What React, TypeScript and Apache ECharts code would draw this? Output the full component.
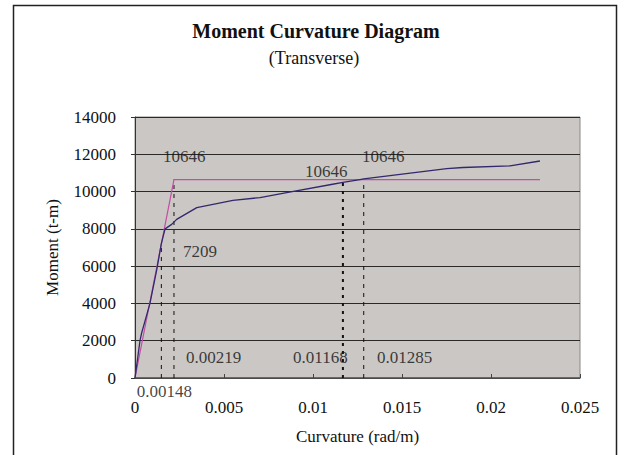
import React, { useEffect, useRef } from "react";
import * as echarts from "echarts";

const curveX = [0, 0.00028, 0.00037, 0.00084, 0.00122, 0.00148, 0.00169, 0.00206, 0.00234, 0.00347, 0.0055, 0.00702, 0.00852, 0.0111, 0.01168, 0.01264, 0.01285, 0.01751, 0.01843, 0.02107, 0.02275];
const curveY = [0, 2000, 2400, 4000, 5800, 7209, 8000, 8240, 8508, 9138, 9531, 9677, 9946, 10393, 10490, 10646, 10680, 11235, 11290, 11380, 11640];

const bilinX = [0, 0.00219, 0.02275];
const bilinY = [0, 10646, 10646];

const markerX = [0.00148, 0.00219, 0.01168, 0.01285];
const markerTop = [7209, 10646, 10490, 10646];

const annoText = ["10646", "10646", "10646", "7209", "0.00219", "0.01168", "0.01285", "0.00148"];
const annoX = [0.00157, 0.00955, 0.01275, 0.0027, 0.00287, 0.00888, 0.0136, 0.0001];
const annoY = [11900, 11093, 11900, 6785, 1077, 1077, 1077, -750];

const xTicks = [0, 0.005, 0.01, 0.015, 0.02, 0.025];
const yTicks = [0, 2000, 4000, 6000, 8000, 10000, 12000, 14000];

const FONT = "'Liberation Serif', 'DejaVu Serif', serif";

export default function App() {
  const ref = useRef<HTMLDivElement>(null);
  useEffect(() => {
    if (!ref.current) return;
    const chart = echarts.init(ref.current, undefined, { renderer: "svg" });
    const markerSeries = markerX.map((x, i) => ({
      type: "line",
      data: [
        [x, 0],
        [x, markerTop[i]],
      ],
      symbol: "none",
      silent: true,
      lineStyle: {
        color: "#111",
        width: i === 2 ? 2 : 1,
        type: i === 2 ? [3, 5] : [4, 5],
      },
      z: 3,
    }));
    chart.setOption({
      animation: false,
      backgroundColor: "#ffffff",
      textStyle: { fontFamily: FONT },
      graphic: [
        {
          type: "rect",
          shape: { x: 13.5, y: 5.5, width: 603, height: 470 },
          style: { fill: "none", stroke: "#222", lineWidth: 1.5 },
          silent: true,
          z: -1,
        },
        {
          type: "text",
          x: 316,
          y: 31,
          style: {
            text: "Moment Curvature Diagram",
            font: "bold 20px " + FONT,
            fill: "#111",
            textAlign: "center",
            textVerticalAlign: "middle",
          },
        },
        {
          type: "text",
          x: 314,
          y: 58,
          style: {
            text: "(Transverse)",
            font: "18px " + FONT,
            fill: "#111",
            textAlign: "center",
            textVerticalAlign: "middle",
          },
        },
      ],
      grid: {
        left: 135,
        top: 117,
        right: 44,
        bottom: 77,
        show: true,
        backgroundColor: "#cac7c4",
        borderColor: "#8a8886",
        borderWidth: 1,
      },
      xAxis: {
        type: "value",
        min: xTicks[0],
        max: xTicks[xTicks.length - 1],
        interval: 0.005,
        name: "Curvature (rad/m)",
        nameLocation: "middle",
        nameGap: 50,
        nameTextStyle: { fontFamily: FONT, fontSize: 17, color: "#111" },
        axisLine: { show: true, lineStyle: { color: "#555", width: 1.5 } },
        axisTick: { show: true, inside: true, length: 4, lineStyle: { color: "#444" } },
        axisLabel: {
          margin: 21,
          fontFamily: FONT,
          fontSize: 17,
          color: "#111",
          formatter: (v: number) => String(+v.toFixed(4)),
        },
        splitLine: { show: false },
      },
      yAxis: {
        type: "value",
        min: yTicks[0],
        max: yTicks[yTicks.length - 1],
        interval: 2000,
        name: "Moment (t-m)",
        nameLocation: "middle",
        nameGap: 74,
        nameRotate: 90,
        nameTextStyle: { fontFamily: FONT, fontSize: 17, color: "#111" },
        axisLine: { show: true, lineStyle: { color: "#333", width: 1 } },
        axisTick: { show: true, inside: false, length: 4, lineStyle: { color: "#333" } },
        axisLabel: {
          margin: 19,
          fontFamily: FONT,
          fontSize: 17,
          color: "#111",
          formatter: (v: number) => String(v),
        },
        splitLine: { show: true, lineStyle: { color: "#2a2a2a", width: 1 } },
      },
      series: [
        ...markerSeries,
        {
          type: "line",
          data: bilinX.map((x, i) => [x, bilinY[i]]),
          symbol: "none",
          lineStyle: { color: "#c24fa3", width: 1.2 },
          z: 4,
        },
        {
          type: "line",
          data: curveX.map((x, i) => [x, curveY[i]]),
          symbol: "none",
          lineStyle: { color: "#33286f", width: 1.3 },
          z: 5,
        },
        {
          type: "scatter",
          symbolSize: 0,
          clip: false,
          silent: true,
          data: annoText.map((t, i) => ({ value: [annoX[i], annoY[i]], name: t })),
          label: {
            show: true,
            position: [0, 0],
            align: "left",
            verticalAlign: "middle",
            formatter: (p: any) => p.name,
            fontFamily: FONT,
            fontSize: 17,
            color: "#111",
          },
          z: 6,
        },
      ],
    });
    return () => chart.dispose();
  }, []);
  return (
    <div
      ref={ref}
      style={{ position: "absolute", left: 0, top: 0, width: 624, height: 455 }}
    />
  );
}
